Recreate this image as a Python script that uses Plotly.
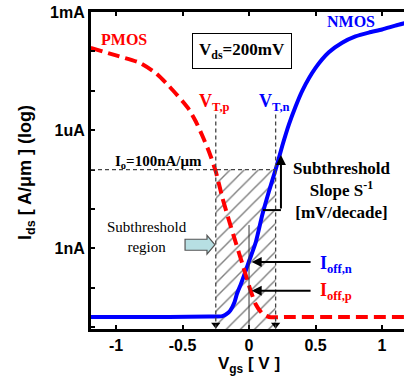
import plotly.graph_objects as go

# ---------------- data ----------------
nmos_vgs = [-1.19, -0.6, -0.3, -0.2, -0.16, -0.14, -0.11, -0.09, -0.06, -0.03, 0.0, 0.05, 0.1, 0.15,
            0.2, 0.25, 0.3, 0.35, 0.4, 0.5, 0.6, 0.7, 0.8, 0.9, 1.0, 1.1, 1.17]
nmos_ids = [1.8e-11, 1.8e-11, 1.85e-11, 1.9e-11, 2.25e-11, 2.65e-11, 4.2e-11, 7.1e-11, 1.26e-10,
            2.4e-10, 4.7e-10, 1.4e-9, 7.1e-9, 2.8e-8, 1.0e-7, 4.0e-7, 1.4e-6, 4.0e-6, 1.0e-5,
            3.8e-5, 9.5e-5, 1.66e-4, 2.4e-4, 3.0e-4, 3.6e-4, 4.5e-4, 5.2e-4]

pmos_vgs = [-1.19, -1.0, -0.82, -0.7, -0.6, -0.5, -0.45, -0.4, -0.35, -0.3, -0.25, -0.2, -0.15,
            -0.1, -0.05, 0.0, 0.05, 0.1, 0.15, 0.3, 0.7, 1.17]
pmos_ids = [1.23e-4, 7.9e-5, 5.1e-5, 2.8e-5, 1.3e-5, 5.4e-6, 3.3e-6, 1.66e-6, 7.1e-7, 2.8e-7,
            8.9e-8, 1.9e-8, 5.0e-9, 1.4e-9, 4.0e-10, 1.12e-10, 3.8e-11, 2.2e-11, 1.8e-11,
            1.8e-11, 1.8e-11, 1.8e-11]

x_tickvals = [-1, -0.5, 0, 0.5, 1]
x_ticktext = ["-1", "-0.5", "0", "0.5", "1"]
y_tickvals = [1e-11, 1e-10, 1e-9, 1e-8, 1e-7, 1e-6, 1e-5, 1e-4, 1e-3]
y_ticktext = ["", "", "1nA", "", "", "1uA", "", "", "1mA"]

VT_P = -0.25      # V
VT_N = 0.2        # V
I_O_LOG = -7      # log10(100 nA/um)
I_OFF_N_LOG = -9.35
I_OFF_P_LOG = -10.08

X_RANGE = [-1.188, 1.165]
Y_RANGE = [-11.05, -2.999]   # log10

RED = "#ff0000"
BLUE = "#0000ff"
SERIF = "Liberation Serif"
SANS = "Liberation Sans"

fig = go.Figure()

# hatched subthreshold region
fig.add_trace(go.Scatter(
    x=[VT_P, VT_N, VT_N, VT_P, VT_P],
    y=[10 ** I_O_LOG, 10 ** I_O_LOG, 1e-12, 1e-12, 10 ** I_O_LOG],
    mode="lines", line=dict(width=0), fill="toself",
    fillcolor="rgba(0,0,0,0)",
    fillpattern=dict(shape="/", fgcolor="#000", bgcolor="rgba(0,0,0,0)", size=10, solidity=0.14),
    hoverinfo="skip", showlegend=False))

# curves
fig.add_trace(go.Scatter(x=nmos_vgs, y=nmos_ids, mode="lines", name="NMOS",
                         line=dict(color=BLUE, width=4, shape="spline", smoothing=0.6)))
fig.add_trace(go.Scatter(x=pmos_vgs, y=pmos_ids, mode="lines", name="PMOS",
                         line=dict(color=RED, width=4, dash="12px,6px", shape="spline", smoothing=0.6)))

# arrowheads at bottom of V_T lines
fig.add_trace(go.Scatter(x=[VT_P, VT_N], y=[10 ** -10.94, 10 ** -10.94], mode="markers",
                         marker=dict(symbol="triangle-down", size=8, color="black"),
                         cliponaxis=False, hoverinfo="skip", showlegend=False))

shapes = []
dash_line = dict(color="#444", width=1.3, dash="4px,3px")
# V_T verticals
for vt in (VT_P, VT_N):
    shapes.append(dict(type="line", xref="x", yref="y2", x0=vt, x1=vt, y0=-5.6, y1=Y_RANGE[0],
                       line=dash_line, layer="above"))
# Io horizontal
shapes.append(dict(type="line", xref="x", yref="y2", x0=X_RANGE[0], x1=VT_N, y0=I_O_LOG, y1=I_O_LOG,
                   line=dash_line, layer="above"))
# thin vertical at Vgs = 0
shapes.append(dict(type="line", xref="x", yref="y2", x0=0, x1=0, y0=-8.41, y1=Y_RANGE[0],
                   line=dict(color="#333", width=1), layer="above"))
# slope triangle horizontal leg
shapes.append(dict(type="line", xref="x", yref="y2", x0=0.105, x1=0.24, y0=-8.03, y1=-8.03,
                   line=dict(color="black", width=2), layer="above"))
# block arrow pointing to subthreshold region
cy = -8.91
bh, hh = 0.14, 0.24
xb0, xb1, xt = -0.481, -0.316, VT_P - 0.006
path = (f"M {xb0},{cy - bh} L {xb1},{cy - bh} L {xb1},{cy - hh} L {xt},{cy} "
        f"L {xb1},{cy + hh} L {xb1},{cy + bh} L {xb0},{cy + bh} Z")
shapes.append(dict(type="path", xref="x", yref="y2", path=path, fillcolor="#b7dfe3",
                   line=dict(color="#555", width=1.2), layer="above"))

def txt(x, y, text, color="black", size=18, bold=True, family=SERIF, **kw):
    d = dict(x=x, y=y, xref="x", yref="y2", text=text, showarrow=False,
             font=dict(family=family, size=size, color=color, weight="bold" if bold else "normal"))
    d.update(kw)
    return d

annotations = [
    txt(-0.94, -3.71, "PMOS", RED, 16),
    txt(0.767, -3.25, "NMOS", BLUE, 16),
    txt(-0.053, -3.99, "V<sub>ds</sub>=200mV", "black", 17, bordercolor="black", borderwidth=1,
        borderpad=6, bgcolor="white"),
    txt(-0.256, -5.31, "V<sub>T,p</sub>", RED, 18),
    txt(0.195, -5.31, "V<sub>T,n</sub>", BLUE, 18),
    txt(-0.677, -6.81, "I<sub>o</sub>=100nA/μm", "black", 15),
    txt(0.70, -7.52, "Subthreshold<br>Slope S<sup>-1</sup><br>[mV/decade]", "black", 17),
    txt(-0.767, -8.71, "Subthreshold<br>region", "black", 15, bold=False),
    txt(0.519, -9.42, "I<sub>off,n</sub>", BLUE, 18, xanchor="left"),
    txt(0.519, -10.11, "I<sub>off,p</sub>", RED, 18, xanchor="left"),
    # arrows
    dict(x=0.24, y=-6.63, ax=0.24, ay=-8.03, xref="x", yref="y2", axref="x", ayref="y2",
         text="", showarrow=True, arrowhead=2, arrowwidth=2, arrowsize=1, arrowcolor="black"),
    dict(x=0.02, y=I_OFF_N_LOG, ax=0.474, ay=I_OFF_N_LOG, xref="x", yref="y2", axref="x", ayref="y2",
         text="", showarrow=True, arrowhead=2, arrowwidth=2, arrowsize=1, arrowcolor="black"),
    dict(x=0.02, y=I_OFF_P_LOG, ax=0.474, ay=I_OFF_P_LOG, xref="x", yref="y2", axref="x", ayref="y2",
         text="", showarrow=True, arrowhead=2, arrowwidth=2, arrowsize=1, arrowcolor="black"),
    # axis titles
    dict(x=-0.208, y=0.495, xref="paper", yref="paper", text="I<sub>ds</sub> [ A/μm ] (log)",
         textangle=-90, showarrow=False, xanchor="center", yanchor="middle",
         font=dict(family=SANS, size=18, color="black", weight="bold")),
    dict(x=0.0, y=-0.112, xref="x", yref="paper", text="V<sub>gs</sub> [ V ]",
         showarrow=False, xanchor="center", yanchor="middle",
         font=dict(family=SANS, size=17, color="black", weight="bold")),
]

fig.update_layout(
    width=404, height=379, autosize=False,
    margin=dict(l=91, r=0, t=12, b=50),
    plot_bgcolor="white", paper_bgcolor="white",
    showlegend=False,
    shapes=shapes, annotations=annotations,
    xaxis=dict(range=X_RANGE, tickvals=x_tickvals, ticktext=x_ticktext, ticks="inside",
               ticklen=4, tickwidth=2, tickcolor="black", showline=True, linewidth=3,
               linecolor="black", mirror="ticks", showgrid=False, zeroline=False,
               tickfont=dict(family=SANS, size=16, color="black", weight="bold")),
    yaxis=dict(type="log", range=Y_RANGE, tickvals=y_tickvals, ticktext=y_ticktext,
               ticks="inside", ticklen=4, tickwidth=2, tickcolor="black", showline=True,
               linewidth=3, linecolor="black", mirror=False, showgrid=False, zeroline=False,
               tickfont=dict(family=SANS, size=16, color="black", weight="bold")),
    yaxis2=dict(range=Y_RANGE, overlaying="y", visible=False, showgrid=False, zeroline=False),
)

# remove the default page margin so the 404x379 figure fills the window exactly
fig.write_html("out.html", config={"displayModeBar": False},
               post_script="document.body.style.margin='0';document.body.style.overflow='hidden';")
